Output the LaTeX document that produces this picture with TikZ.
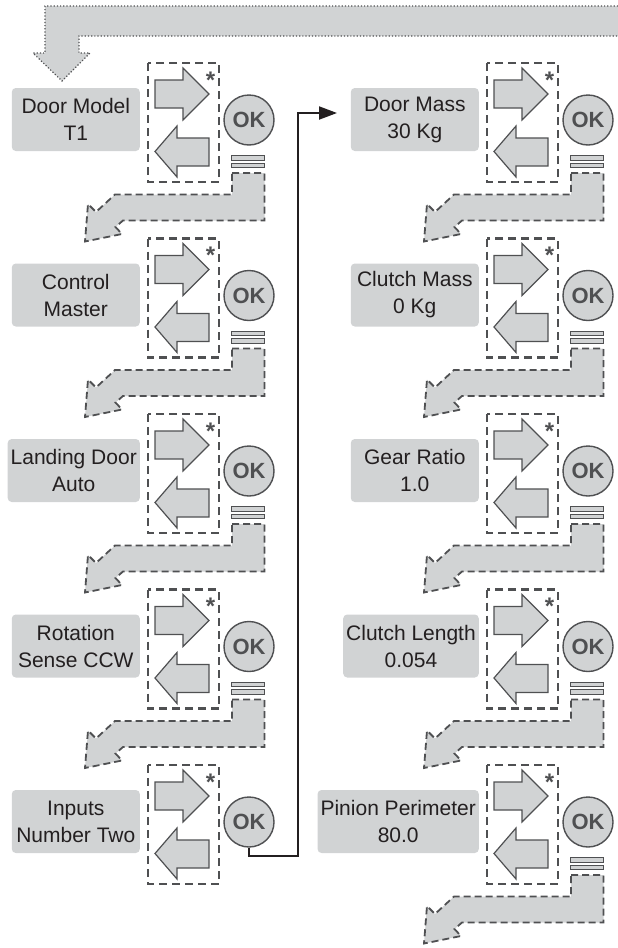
\documentclass[tikz,border=0pt]{standalone}
\usepackage{fontspec}
\setmainfont{Liberation Sans}
\usetikzlibrary{arrows.meta}

\definecolor{panel}{HTML}{D1D3D4}
\definecolor{edge}{HTML}{4F5052}
\definecolor{ink}{HTML}{231F20}

\tikzset{
  param/.style={fill=panel, rounded corners=4pt, minimum width=128pt, minimum height=63pt,
    align=center, inner sep=3pt, text=ink, font=\fontsize{21}{27}\selectfont},
  keyframe/.style={draw=edge, line width=2.2pt, dash pattern=on 8pt off 5pt},
  keyarrow/.style={fill=panel, draw=edge, line width=1.2pt},
  okbutton/.style={circle, fill=panel, draw=edge, line width=1.4pt, minimum size=50pt,
    inner sep=0pt, text=edge, font=\fontsize{22}{22}\selectfont\bfseries},
  menubar/.style={fill=panel, draw=edge, line width=1pt},
  nextstep/.style={fill=panel, draw=edge, line width=1.8pt, dash pattern=on 7pt off 4pt},
  loopback/.style={draw=edge, line width=1.2pt, dotted},
  flow/.style={draw=ink, line width=2pt, -{Triangle[length=18pt,width=13pt]}}
}

\begin{document}
\begin{tikzpicture}[x=1pt,y=-1pt]
\useasboundingbox (0,0) rectangle (618,948);

% loop back from the last parameter to the first
\fill[panel] (618,6) -- (45,6) -- (45,53) -- (33,53) -- (62,81) -- (90,53) -- (79,53) -- (79,36) -- (618,36) -- cycle;
\draw[loopback] (618,6) -- (45,6) -- (45,53) -- (33,53) -- (62,81) -- (90,53) -- (79,53) -- (79,36) -- (618,36);

% key block of every parameter
\foreach \col/\dx in {L/0, R/339} {
  \foreach \row in {1,...,5} {
    \pgfmathsetmacro\dy{175.5*(\row-1)}
    \begin{scope}[shift={(\dx,\dy)}]
      \draw[keyframe] (148,63) rectangle (219,182);
      \draw[keyarrow] (155,80) -- (183,80) -- (183,68) -- (209,94) -- (183,120) -- (183,108) -- (155,108) -- cycle;
      \draw[keyarrow] (209,138) -- (177,138) -- (177,126) -- (155,151.5) -- (177,177) -- (177,166) -- (209,166) -- cycle;
      \node[inner sep=0pt, anchor=base, text=edge, font=\fontsize{24}{24}\selectfont\bfseries] (star\col\row) at (210.5,88) {*};
      \node[okbutton] (ok\col\row) at (249,120) {OK};
    \end{scope}
  }
}

% menu key and step to the next parameter
\foreach \dx/\row in {0/1,0/2,0/3,0/4,339/1,339/2,339/3,339/4,339/5} {
  \pgfmathsetmacro\dy{175.5*(\row-1)}
  \begin{scope}[shift={(\dx,\dy)}]
    \draw[menubar] (231,155.5) rectangle (264,160);
    \draw[menubar] (231,163) rectangle (264,167.5);
    \draw[nextstep] (232,173) -- (264.5,173) -- (264.5,220.5) -- (123,220.5) -- (115.5,227) -- (122,234)
      -- (85,241.5) -- (88,204) -- (96,212) -- (115,194.5) -- (232,194.5) -- cycle;
  \end{scope}
}

% parameters
\node[param, anchor=east] (model)    at (140,119.5)   {Door Model\\T1};
\node[param, anchor=east] (control)  at (140,295)     {Control\\Master};
\node[param, anchor=east] (landing)  at (140,470.5)   {Landing Door\\Auto};
\node[param, anchor=east] (rotation) at (140,646)     {Rotation\\Sense CCW};
\node[param, anchor=east] (inputs)   at (140,821.5)   {Inputs\\Number Two};
\node[param, anchor=east] (mass)     at (479,119.5)   {Door Mass\\30 Kg};
\node[param, anchor=east] (clutch)   at (479,295)     {Clutch Mass\\0 Kg};
\node[param, anchor=east] (gear)     at (479,470.5)   {Gear Ratio\\1.0};
\node[param, anchor=east] (length)   at (479,646)     {Clutch Length\\0.054};
\node[param, anchor=east] (pinion)   at (479,821.5)   {Pinion Perimeter\\80.0};

% jump to the second column
\coordinate (turn)  at (298,856);
\coordinate (entry) at (337,113);
\draw[flow] (okL5.south) |- (turn) |- (entry);
\end{tikzpicture}
\end{document}
